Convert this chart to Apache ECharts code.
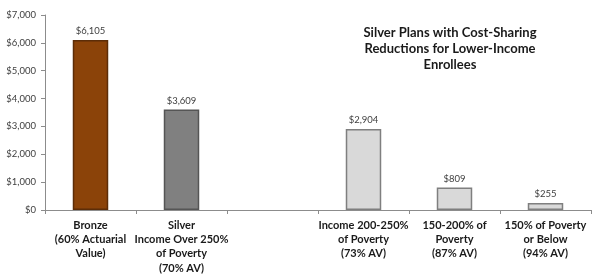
<!DOCTYPE html>
<html>
<head>
<meta charset="utf-8">
<script src="https://cdn.jsdelivr.net/npm/echarts@6/dist/echarts.min.js"></script>
<style>
  html, body { margin: 0; padding: 0; background: #fff; }
  #chart { width: 600px; height: 278px; }
  .edge { position: absolute; left: 2px; top: 0; width: 1px; height: 278px; background: #d4d4d4; }
</style>
</head>
<body>
<div class="edge"></div>
<div id="chart"></div>
<script>
var categories = [
    "Bronze\n(60% Actuarial\nValue)",
    "Silver\nIncome Over 250%\nof Poverty\n(70% AV)",
    "",
    "Income 200-250%\nof Poverty\n(73% AV)",
    "150-200% of\nPoverty\n(87% AV)",
    "150% of Poverty\nor Below\n(94% AV)"
];
var premiums = [6105, 3609, null, 2904, 809, 255];
var barColors = ["#8b4309", "#808080", null, "#d9d9d9", "#d9d9d9", "#d9d9d9"];
var barBorders = ["#5c2d08", "#555555", null, "#7f7f7f", "#7f7f7f", "#7f7f7f"];
var yTicks = { min: 0, max: 7000, interval: 1000 };
var titleText = "Silver Plans with Cost-Sharing\nReductions for Lower-Income\nEnrollees";

var fontFam = "Lato, 'Open Sans', sans-serif";

function money(v) {
    return "$" + v.toString().replace(/\B(?=(\d{3})+(?!\d))/g, ",");
}

var seriesData = premiums.map(function (v, i) {
    if (v === null) return null;
    return {
        value: v,
        itemStyle: { color: barColors[i], borderColor: barBorders[i], borderWidth: 1.5 }
    };
});

var chart = echarts.init(document.getElementById("chart"), null, { renderer: "canvas" });
chart.setOption({
    animation: false,
    backgroundColor: "#ffffff",
    title: {
        text: titleText,
        left: 445,
        top: 20,
        textAlign: "center",
        textStyle: {
            fontFamily: fontFam,
            fontSize: 13,
            fontWeight: "bold",
            color: "#1a1a1a",
            lineHeight: 16,
            align: "center"
        }
    },
    grid: { left: 45, right: 9, top: 15, bottom: 68, containLabel: false },
    xAxis: {
        type: "category",
        data: categories,
        boundaryGap: true,
        axisLine: { show: true, lineStyle: { color: "#8c8c8c", width: 1 } },
        axisTick: { show: true, length: 4, lineStyle: { color: "#8c8c8c" } },
        axisLabel: {
            interval: 0,
            margin: 8,
            fontFamily: fontFam,
            fontSize: 11,
            fontWeight: "bold",
            color: "#1a1a1a",
            lineHeight: 14.3,
            align: "center"
        }
    },
    yAxis: {
        type: "value",
        min: yTicks.min,
        max: yTicks.max,
        interval: yTicks.interval,
        axisLine: { show: true, lineStyle: { color: "#8c8c8c", width: 1 } },
        axisTick: { show: true, length: 4, lineStyle: { color: "#8c8c8c" } },
        splitLine: { show: false },
        axisLabel: {
            margin: 9,
            fontFamily: fontFam,
            fontSize: 9.5,
            color: "#404040",
            formatter: function (v) { return money(v); }
        }
    },
    series: [{
        type: "bar",
        data: seriesData,
        barWidth: "39%",
        label: {
            show: true,
            position: "top",
            distance: 4,
            fontFamily: fontFam,
            fontSize: 9.5,
            color: "#404040",
            formatter: function (p) { return money(p.value); }
        }
    }]
});
</script>
</body>
</html>
